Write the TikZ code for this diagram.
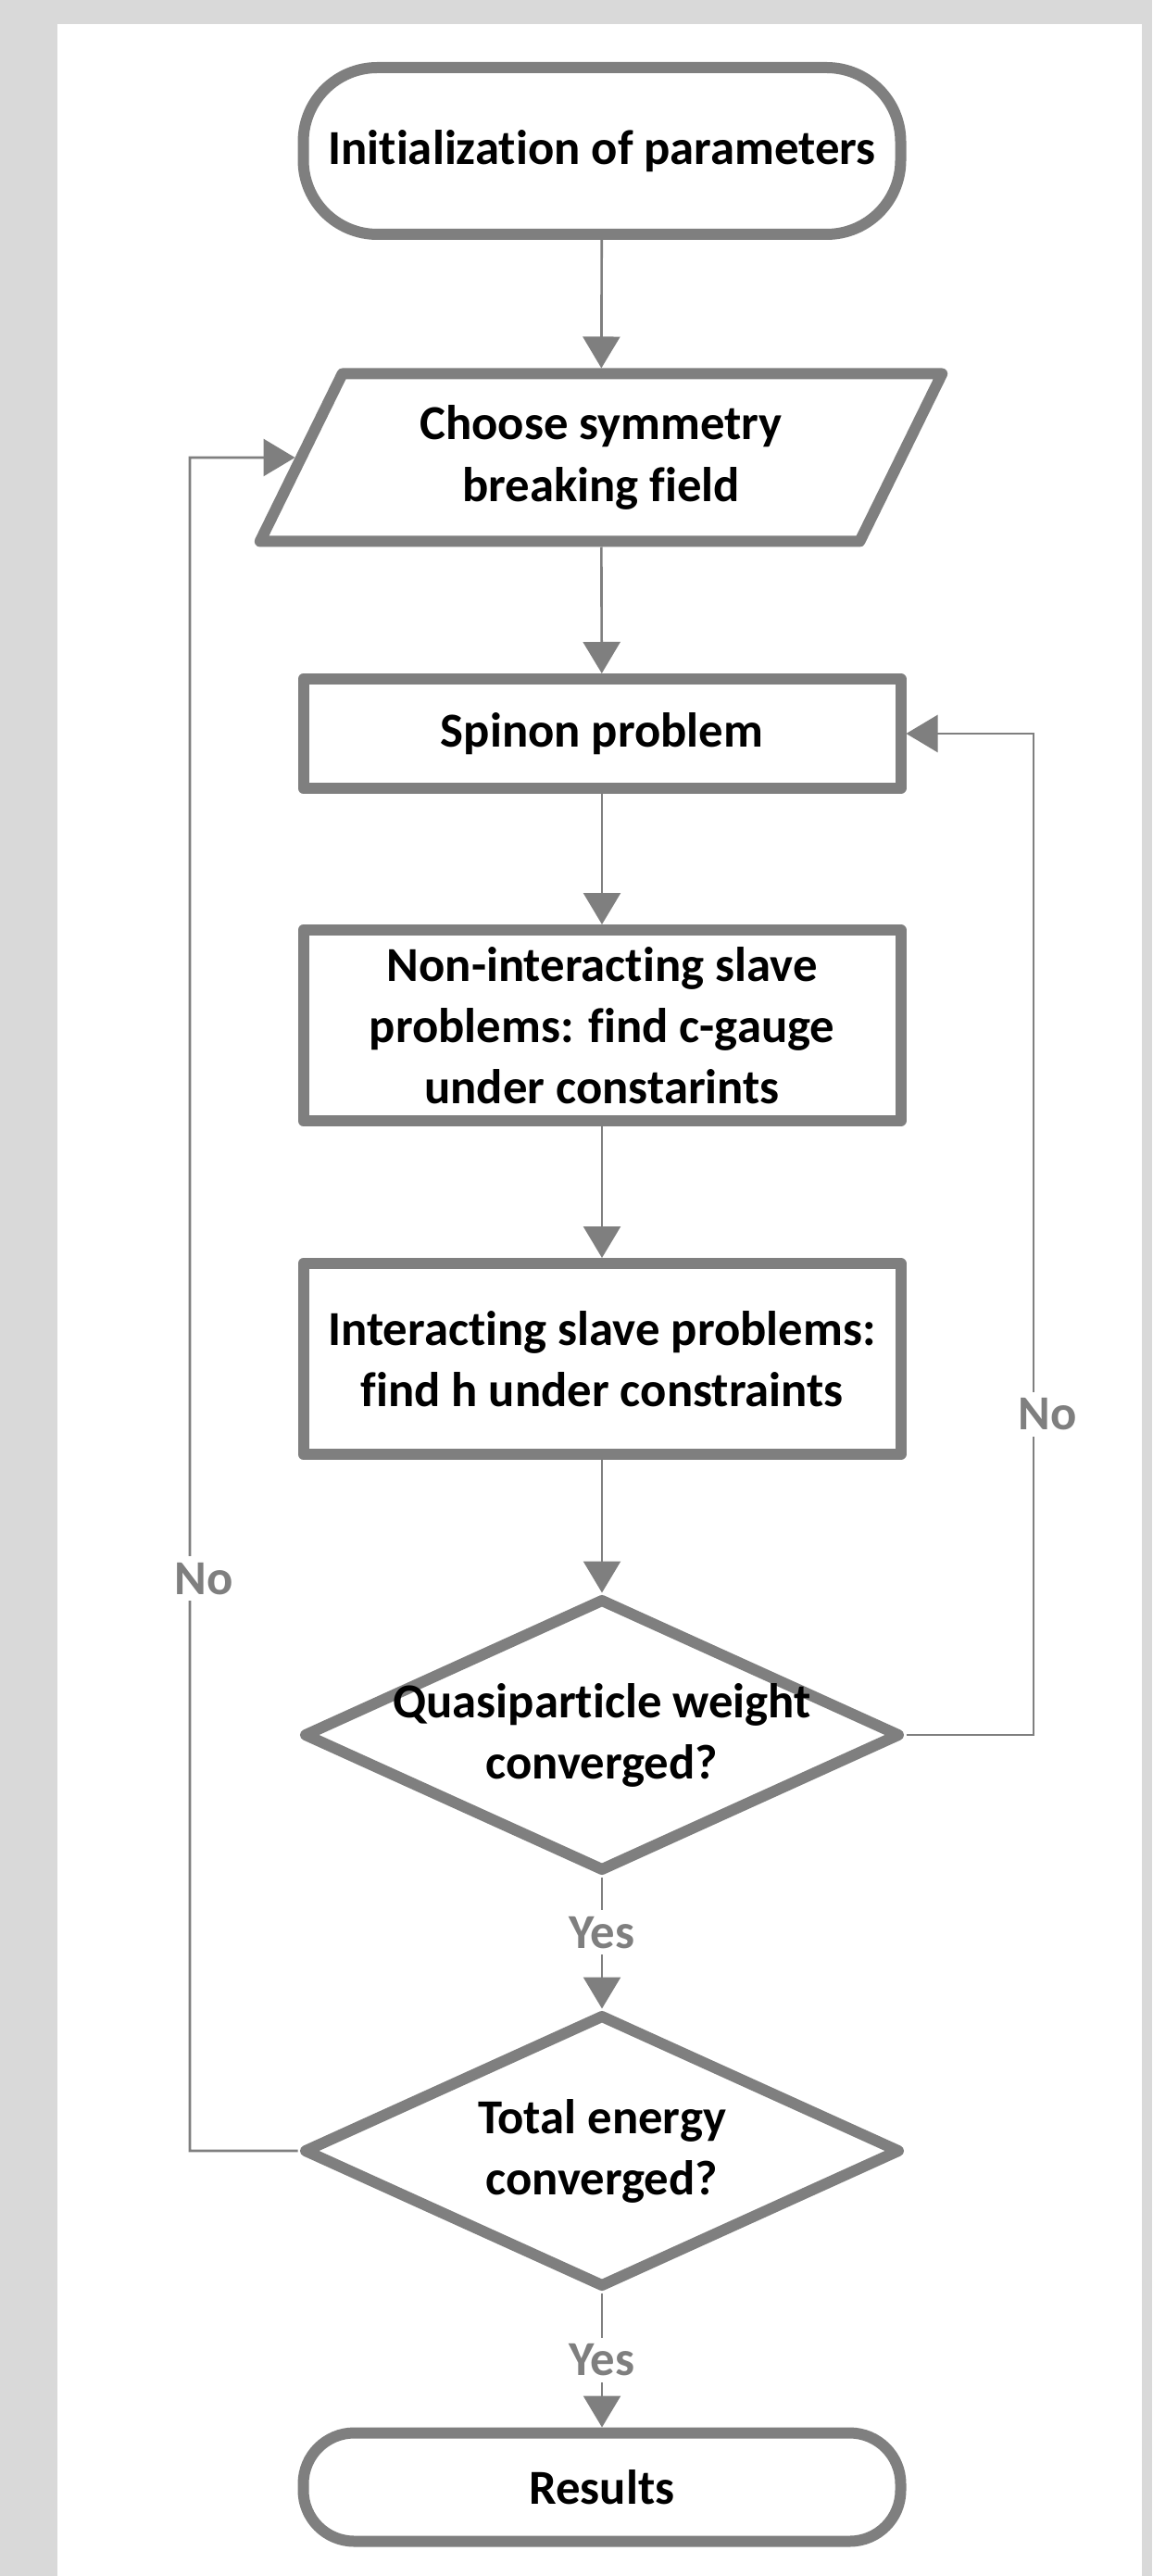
\documentclass[tikz,border=0pt]{standalone}
\usepackage{fontspec}
\setmainfont{Carlito}[Ligatures=NoCommon]
\usepackage{xcolor}
\usepackage{tikz}
\usetikzlibrary{positioning}
\usetikzlibrary{arrows.meta, shapes.geometric, calc}

\definecolor{linegray}{HTML}{7F7F7F}
\definecolor{pagegray}{HTML}{D9D9D9}

\tikzset{
    boxtext/.style={align=center, font=\fontsize{15}{18.8}\selectfont\bfseries},
    box/.style={draw=linegray, line width=0.12cm, line join=round, fill=white, boxtext},
    terminal/.style={box, rectangle, rounded corners=0.8cm, minimum width=6.45cm},
    process/.style={box, rectangle, minimum width=6.45cm},
    inout/.style={box, trapezium, trapezium left angle=64, trapezium right angle=116,
        trapezium stretches=true, minimum width=7.38cm, minimum height=1.81cm},
    decision/.style={box, diamond, minimum width=6.45cm, minimum height=2.95cm, inner sep=0pt},
    conn/.style={draw=linegray, line width=0.75pt, -{Triangle[length=0.34cm, width=0.4cm]}},
    lbl/.style={fill=white, text=linegray, inner sep=2pt,
        font=\fontsize{15}{16}\selectfont\bfseries}
}

\begin{document}
\begin{tikzpicture}
        % page and panel
        \fill[pagegray] (0,0) rectangle (12.44,-27.81);
        \fill[white] (0.62,-0.26) rectangle (12.33,-27.81);

        \node[terminal, minimum height=1.8cm] (init) at (6.5,-1.63) {Initialization of parameters};
        \node[inout] (field) at (6.49,-4.94) {Choose symmetry\\breaking field};
        \node[process, minimum height=1.18cm] (spinon) at (6.5,-7.92) {Spinon problem};
        \node[process, minimum height=2.06cm] (nonint) at (6.5,-11.07) {Non-interacting slave\\problems: find c-gauge\\under constarints};
        \node[process, minimum height=2.06cm] (inter) at (6.5,-14.67) {Interacting slave problems:\\find h under constraints};
        \node[decision, label={[boxtext]center:Quasiparticle weight\\converged?}] (qpw) at (6.5,-18.73) {};
        \node[decision, label={[boxtext]center:Total energy\\converged?}] (energy) at (6.5,-23.22) {};
        \node[terminal, minimum height=1.17cm, rounded corners=0.55cm] (results) at (6.5,-26.85) {Results};

        \coordinate (lloop) at (2.05,0);
        \coordinate (rloop) at (11.16,0);

        \draw[conn] (init) -- (field);
        \draw[conn] (field) -- (spinon);
        \draw[conn] (spinon) -- (nonint);
        \draw[conn] (nonint) -- (inter);
        \draw[conn] (inter) -- (qpw);
        \draw[conn] (qpw) -- node[lbl, pos=0.42] {Yes} (energy);
        \draw[conn] (energy) -- node[lbl] {Yes} (results);

        % loops back
        \draw[conn] (qpw.east) -- (qpw.east -| rloop) -- node[lbl, pos=0.32, xshift=0.15cm] {No} (spinon.east -| rloop) -- (spinon.east);
        \draw[conn] (energy.west) -- (energy.west -| lloop) -- node[lbl, pos=0.338, xshift=0.15cm] {No} (field -| lloop) -- (field);
\end{tikzpicture}
\end{document}
